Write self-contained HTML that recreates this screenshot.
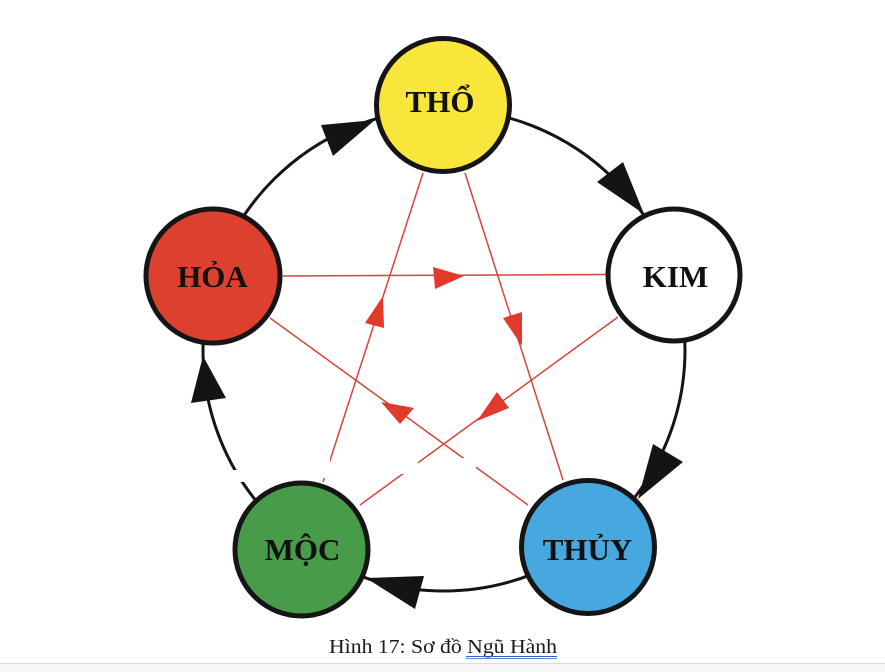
<!DOCTYPE html>
<html>
<head>
<meta charset="utf-8">
<style>
html,body{margin:0;padding:0;background:#fff;}
body{width:885px;height:671px;overflow:hidden;position:relative;}
svg{position:absolute;left:0;top:0;}
.bottom{position:absolute;left:0;top:663px;width:885px;height:8px;background:#f7f7f7;border-top:1px solid #dcdcdc;}
</style>
</head>
<body>
<svg width="885" height="671" viewBox="0 0 885 671" xmlns="http://www.w3.org/2000/svg">
  <!-- outer cycle -->
  <circle cx="444" cy="350" r="241" fill="none" stroke="#141414" stroke-width="3"/>

  <!-- red star lines -->
  <g stroke="#d2463c" stroke-width="1.5" fill="none">
    <line x1="283" y1="276" x2="606" y2="274.5"/>
    <line x1="323" y1="482" x2="423" y2="173"/>
    <line x1="465" y1="173" x2="563" y2="480"/>
    <line x1="618" y1="317" x2="360" y2="505"/>
    <line x1="528" y1="505" x2="270" y2="318"/>
  </g>

  <!-- red arrowheads -->
  <g fill="#e03a2d">
    <polygon points="433,267 464,276 435,289"/>
    <polygon points="383,296 365,323 384,328"/>
    <polygon points="503,318 522,312 522,346"/>
    <polygon points="381,402 414,408 400,424"/>
    <polygon points="497,392 509,408 477,421"/>
  </g>

  <!-- watermark gaps -->
  <g fill="#fff">
    <rect x="232" y="470" width="14" height="12"/>
    <rect x="318" y="458" width="12" height="20"/>
    <rect x="398" y="458" width="20" height="16"/>
    <rect x="462" y="458" width="14" height="12"/>
  </g>

  <!-- black arrowheads -->
  <g fill="#141414">
    <polygon points="321,125 375,120 333,156"/>
    <polygon points="597,182 623,162 644,214"/>
    <polygon points="366,578 424,576 415,609"/>
    <polygon points="653,444 683,462 638,499"/>
    <polygon points="203,356 191,403 226,398"/>
  </g>

  <!-- nodes -->
  <g stroke="#151515" stroke-width="5">
    <circle cx="443" cy="105" r="66.5" fill="#f9e63a"/>
    <circle cx="213" cy="276" r="67" fill="#de4030"/>
    <circle cx="674" cy="275" r="66" fill="#ffffff"/>
    <circle cx="588" cy="547" r="66.5" fill="#47a7df"/>
    <circle cx="301.5" cy="549.5" r="66.5" fill="#489b49"/>
  </g>

  <!-- labels -->
  <g font-family="'Liberation Serif', 'Noto Serif CJK SC', serif" font-weight="bold" font-size="31" fill="#111" text-anchor="middle">
    <text x="440" y="112">THỔ</text>
    <text x="212.5" y="287">HỎA</text>
    <text x="675.5" y="287">KIM</text>
    <text x="587.5" y="560">THỦY</text>
    <text x="302.5" y="560">MỘC</text>
  </g>

  <!-- caption -->
  <text x="329" y="653" font-family="'Liberation Serif', serif" font-size="20" fill="#1a1a1a" textLength="228" lengthAdjust="spacingAndGlyphs">Hình 17: Sơ đồ Ngũ  Hành</text>
  <line x1="466" y1="656.5" x2="557" y2="656.5" stroke="#3a5bc7" stroke-width="1"/>
  <line x1="466" y1="658.5" x2="557" y2="658.5" stroke="#3a5bc7" stroke-width="0.8"/>
</svg>
<div class="bottom"></div>
</body>
</html>
